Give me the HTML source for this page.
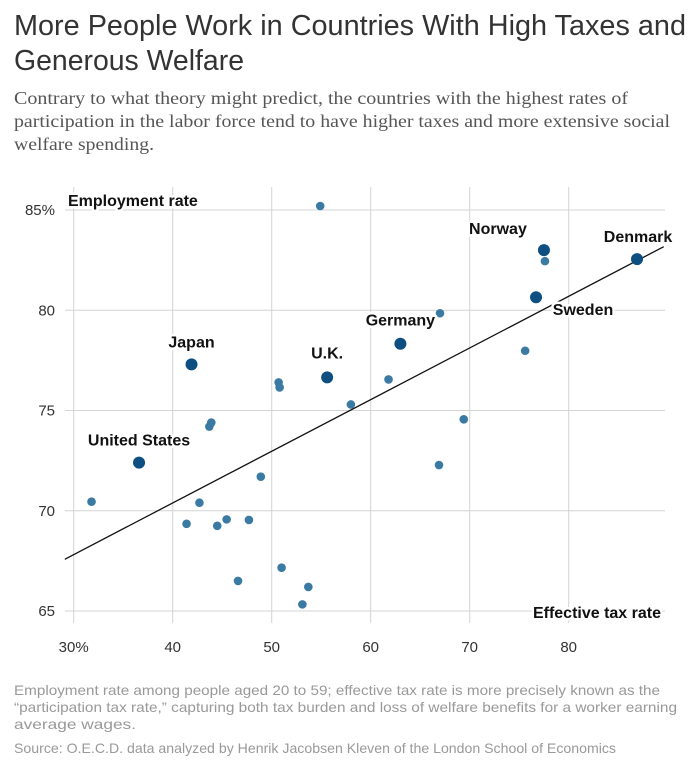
<!DOCTYPE html>
<html><head><meta charset="utf-8">
<style>
html,body{margin:0;padding:0;background:#fff;}
svg{display:block;}
.t{font-family:"Liberation Sans Narrow","Liberation Sans",sans-serif;fill:#333;}
.s{font-family:"Liberation Serif",serif;fill:#555;font-size:18px;}
.n{font-family:"Liberation Sans Narrow","Liberation Sans",sans-serif;fill:#999;font-size:14px;}
.tick{font-family:"Liberation Sans Narrow","Liberation Sans",sans-serif;fill:#333;font-size:15px;}
.lab{font-family:"Liberation Sans",sans-serif;font-weight:bold;fill:#111;font-size:16px;paint-order:stroke;stroke:#fff;stroke-width:5px;stroke-linejoin:round;}
</style></head>
<body>
<svg id="chart" width="690" height="773" viewBox="0 0 690 773">
  <text class="t" x="14" y="35" font-size="29" textLength="672" lengthAdjust="spacingAndGlyphs">More People Work in Countries With High Taxes and</text>
  <text class="t" x="14" y="70" font-size="29" textLength="230" lengthAdjust="spacingAndGlyphs">Generous Welfare</text>
  <text class="s" x="14" y="104" textLength="614" lengthAdjust="spacingAndGlyphs">Contrary to what theory might predict, the countries with the highest rates of</text>
  <text class="s" x="14" y="127" textLength="656" lengthAdjust="spacingAndGlyphs">participation in the labor force tend to have higher taxes and more extensive social</text>
  <text class="s" x="14" y="150" textLength="140" lengthAdjust="spacingAndGlyphs">welfare spending.</text>
  <g id="plot"></g>
  <text class="n" x="14" y="695" textLength="646" lengthAdjust="spacingAndGlyphs">Employment rate among people aged 20 to 59; effective tax rate is more precisely known as the</text>
  <text class="n" x="14" y="712" textLength="663" lengthAdjust="spacingAndGlyphs">“participation tax rate,” capturing both tax burden and loss of welfare benefits for a worker earning</text>
  <text class="n" x="14" y="729" textLength="122" lengthAdjust="spacingAndGlyphs">average wages.</text>
  <text class="n" x="14" y="753" textLength="602" lengthAdjust="spacingAndGlyphs">Source: O.E.C.D. data analyzed by Henrik Jacobsen Kleven of the London School of Economics</text>
</svg>
<script>
const xTicks = [30, 40, 50, 60, 70, 80];
const xTickLabels = ["30%", "40", "50", "60", "70", "80"];
const yTicks = [65, 70, 75, 80, 85];
const yTickLabels = ["65", "70", "75", "80", "85%"];
const taxRates = [54.9, 50.7, 50.8, 58.0, 43.9, 43.7, 48.9, 31.8, 42.7, 41.4, 44.5, 45.45, 47.7, 51.0, 46.6, 53.7, 53.1, 61.8, 67.0, 77.6, 75.6, 69.4, 66.9];
const employment = [85.2, 76.4, 76.15, 75.3, 74.4, 74.2, 71.7, 70.45, 70.4, 69.35, 69.25, 69.57, 69.54, 67.16, 66.5, 66.2, 65.33, 76.55, 79.85, 82.45, 77.98, 74.56, 72.28];
const namedCountries = ["Japan", "U.K.", "United States", "Germany", "Norway", "Sweden", "Denmark"];
const namedTax = [41.9, 55.6, 36.6, 63.0, 77.5, 76.7, 86.9];
const namedEmp = [77.3, 76.65, 72.4, 78.33, 83.0, 80.65, 82.55];
const trendX = [29.1, 89.6];
const trendY = [67.58, 83.17];

const X = v => 73.7 + (v - 30) * 9.9;
const Y = v => 210 + (85 - v) * 20.05;
const NS = "http://www.w3.org/2000/svg";
const g = document.getElementById("plot");
function mk(tag, attrs){ const e = document.createElementNS(NS, tag); for (const k in attrs) e.setAttribute(k, attrs[k]); g.appendChild(e); return e; }

yTicks.forEach((v, i) => {
  const l = mk("line", {x1: 65, x2: 665, y1: Y(v), y2: Y(v), stroke: "#d4d4d4", "stroke-width": 1});
  
  
  const t = mk("text", {x: 55, y: Y(v) + 5, "text-anchor": "end", class: "tick"});
  t.textContent = yTickLabels[i];
  
  
});
xTicks.forEach((v, i) => {
  const l = mk("line", {x1: X(v), x2: X(v), y1: 187, y2: 623, stroke: "#d4d4d4", "stroke-width": 1});
  
  
  const t = mk("text", {x: X(v), y: 652, "text-anchor": "middle", class: "tick"});
  t.textContent = xTickLabels[i];
  
  
});

const tl = mk("line", {x1: X(trendX[0]), y1: Y(trendY[0]), x2: X(trendX[1]), y2: Y(trendY[1]), stroke: "#111", "stroke-width": 1.3});



taxRates.forEach((v, i) => {
  const c = mk("circle", {cx: X(v), cy: Y(employment[i]), r: 4.3, fill: "#3a7aa3"});
  
  
});
namedTax.forEach((v, i) => {
  const c = mk("circle", {cx: X(v), cy: Y(namedEmp[i]), r: 6, fill: "#0d4f80"});
  
  
});

const labDx = [0, 0, 0, 0, -46, 47, 1];
const labDy = [-17, -19, -17, -18, -16, 18, -17];
namedCountries.forEach((name, i) => {
  const t = mk("text", {x: X(namedTax[i]) + labDx[i], y: Y(namedEmp[i]) + labDy[i], "text-anchor": "middle", class: "lab"});
  t.textContent = name;
  
  
});

const ya = mk("text", {x: 68, y: 206, class: "lab"});
ya.textContent = "Employment rate";


const xa = mk("text", {x: 661, y: 618, "text-anchor": "end", class: "lab"});
xa.textContent = "Effective tax rate";


</script>
</body></html>
